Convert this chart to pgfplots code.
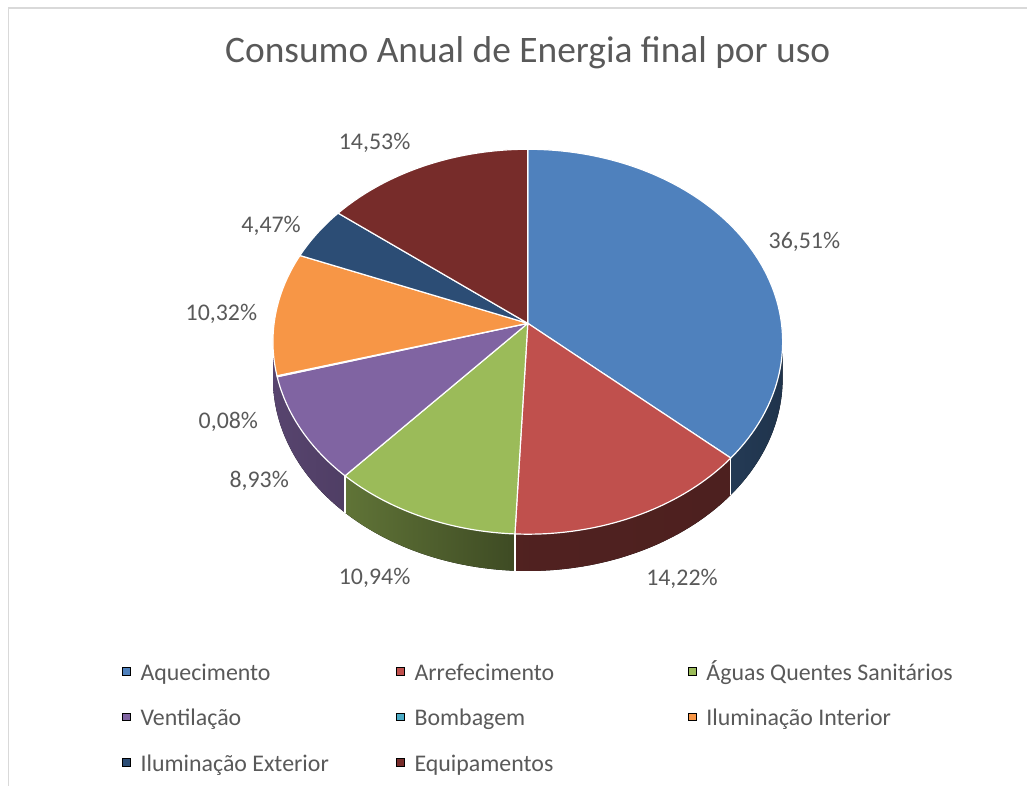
\documentclass[border=0pt]{standalone}
\usepackage{pgfplots}
\pgfplotsset{compat=1.18}
\usepackage{pgfplotstable}
\usepgfplotslibrary{fillbetween}
\usepackage{fontspec}
\setmainfont{Carlito}
\definecolor{txt}{HTML}{595959}
\definecolor{frame}{HTML}{D9D9D9}
\definecolor{cAq}{HTML}{4F81BD}
\definecolor{cAr}{HTML}{C0504D}
\definecolor{cAg}{HTML}{9BBB59}
\definecolor{cVe}{HTML}{8064A2}
\definecolor{cBo}{HTML}{4BACC6}
\definecolor{cIi}{HTML}{F79646}
\definecolor{cIe}{HTML}{2C4D75}
\definecolor{cEq}{HTML}{772C2A}
\pgfplotsset{sqleg/.style={legend image code/.code={\fill[##1] (0pt,-1.9pt) rectangle (3.8pt,1.9pt);}}}

% shares (%), in Excel order, starting at 12 o'clock, clockwise
\pgfplotstableread{
share
36.51
14.22
10.94
8.93
0.08
10.32
4.47
14.53
}\usedata

\newcommand\topslice[2]{\edef\doit{\noexpand\addplot[forget plot, fill=#2, draw=white, line width=0.6pt, line join=round, domain=\csname sB#1\endcsname:\csname sA#1\endcsname, samples=80, variable=\noexpand\t] ({PX(\noexpand\t)},{PY(\noexpand\t)}) -- (axis cs:526,-325) -- cycle;}\doit}
\newcommand\sideslice[5]{\edef\doit{%
 \noexpand\addplot[forget plot, draw=none, name path=T#5, domain=#1:#2, samples=60, variable=\noexpand\t] ({PX(\noexpand\t)},{PY(\noexpand\t)});
 \noexpand\addplot[forget plot, draw=none, name path=B#5, domain=#1:#2, samples=60, variable=\noexpand\t] ({PX(\noexpand\t)},{PY(\noexpand\t)-37});
 \noexpand\addplot[forget plot, left color=#3, right color=#4] fill between[of=T#5 and B#5];}\doit}
\newcommand\sep[1]{\edef\doit{\noexpand\addplot[forget plot, white, line width=0.6pt, domain=0:1, samples=2] ({PX(#1)},{PY(#1)-37*x});}\doit}

\begin{document}
\gdef\cumsum{0}
\foreach \i in {0,...,7}{%
  \pgfplotstablegetelem{\i}{share}\of\usedata
  \pgfmathsetmacro\tmpa{90-3.6*\cumsum}%
  \pgfmathsetmacro\newcum{\cumsum+\pgfplotsretval}%
  \pgfmathsetmacro\tmpb{90-3.6*\newcum}%
  \expandafter\xdef\csname sA\i\endcsname{\tmpa}%
  \expandafter\xdef\csname sB\i\endcsname{\tmpb}%
  \xdef\cumsum{\newcum}%
}%
\begin{tikzpicture}
\begin{axis}[
  width=514pt, height=395pt, scale only axis, hide axis, clip=false,
  xmin=0, xmax=1028, ymin=-790, ymax=0,
  declare function={PX(\t)=526+255*cos(\t)/(1+0.0956*sin(\t)); PY(\t)=-325+191.7*sin(\t)/(1+0.0956*sin(\t));},
  legend columns=3,
  legend style={at={(axis cs:118,-659)}, anchor=north west, draw=none, fill=none,
    inner sep=0pt, row sep=7.3pt, font=\fontsize{12}{14.4}\selectfont, text=txt,
    /tikz/every odd column/.append style={column sep=3pt}},
  legend cell align=left,
]
\path (axis cs:0,-790) rectangle (axis cs:1028,0);
\draw[frame, line width=0.8pt] (axis cs:4,-790) -- (axis cs:4,-8) -- (axis cs:1028,-8);

% sides
\sideslice{\csname sB0\endcsname}{-5.5}{cAq!45!black}{cAq!40!black}{a}
\sideslice{\csname sB1\endcsname}{\csname sA1\endcsname}{cAr!42!black}{cAr!40!black}{b}
\sideslice{\csname sB2\endcsname}{\csname sA2\endcsname}{cAg!62!black}{cAg!40!black}{c}
\sideslice{-171}{\csname sA3\endcsname}{cVe!68!black}{cVe!62!black}{d}
\sep{\csname sB0\endcsname}
\sep{\csname sB1\endcsname}
\sep{\csname sB2\endcsname}

% top faces
\topslice{0}{cAq}
\topslice{1}{cAr}
\topslice{2}{cAg}
\topslice{3}{cVe}
\topslice{4}{cBo}
\topslice{5}{cIi}
\topslice{6}{cIe}
\topslice{7}{cEq}

% labels
\begin{scope}[every node/.style={font=\fontsize{12}{14.4}\selectfont, text=txt}]
\node at (axis cs:372,-144) {14,53\%};
\node at (axis cs:804,-243) {36,51\%};
\node at (axis cs:268,-227) {4,47\%};
\node at (axis cs:218,-316) {10,32\%};
\node at (axis cs:225,-424) {0,08\%};
\node at (axis cs:256,-483) {8,93\%};
\node at (axis cs:372,-581) {10,94\%};
\node at (axis cs:681,-582) {14,22\%};
\end{scope}
\node[font=\fontsize{18.8}{22}\selectfont, text=txt, anchor=base] at (axis cs:526,-63) {Consumo Anual de Energia final por uso};

\addlegendimage{sqleg, fill=cAq}\addlegendentry{\makebox[126.5pt][l]{\strut Aquecimento}}
\addlegendimage{sqleg, fill=cAr}\addlegendentry{\makebox[135.5pt][l]{\strut Arrefecimento}}
\addlegendimage{sqleg, fill=cAg}\addlegendentry{\strut Águas Quentes Sanitários}
\addlegendimage{sqleg, fill=cVe}\addlegendentry{\makebox[126.5pt][l]{\strut Ventilação}}
\addlegendimage{sqleg, fill=cBo}\addlegendentry{\makebox[135.5pt][l]{\strut Bombagem}}
\addlegendimage{sqleg, fill=cIi}\addlegendentry{\strut Iluminação Interior}
\addlegendimage{sqleg, fill=cIe}\addlegendentry{\makebox[126.5pt][l]{\strut Iluminação Exterior}}
\addlegendimage{sqleg, fill=cEq}\addlegendentry{\makebox[135.5pt][l]{\strut Equipamentos}}
\end{axis}
\end{tikzpicture}
\end{document}
